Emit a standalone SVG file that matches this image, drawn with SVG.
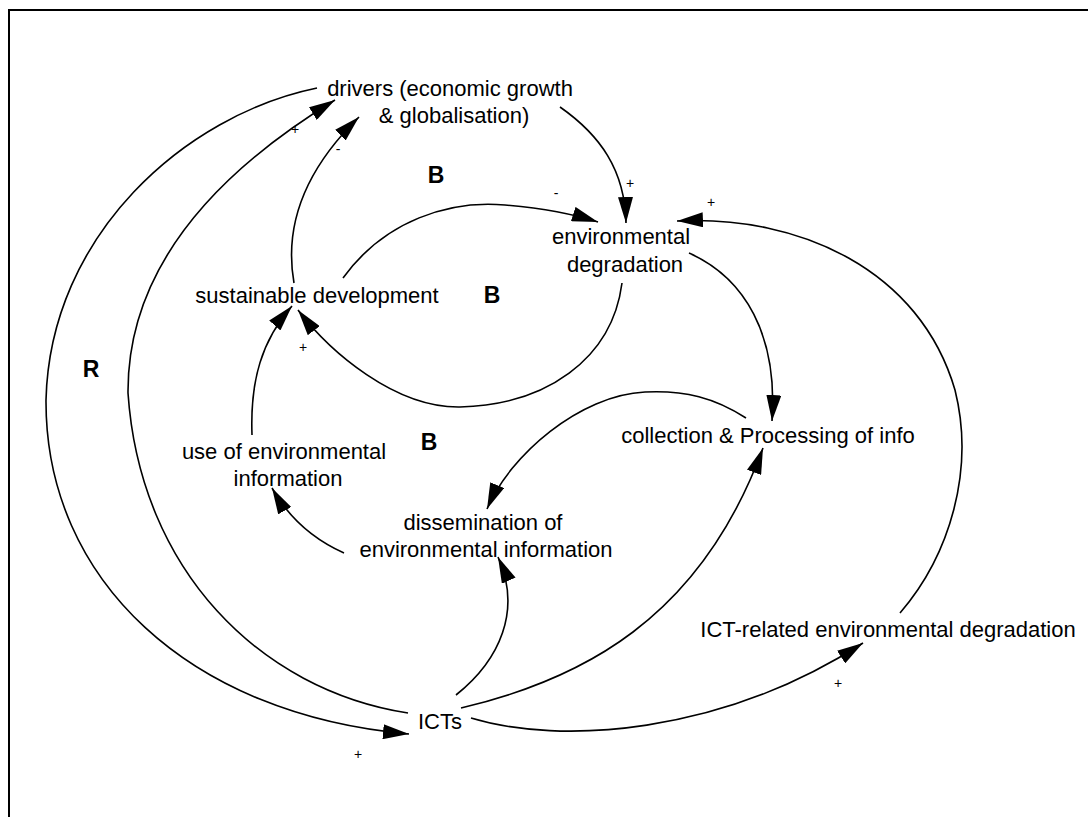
<svg xmlns="http://www.w3.org/2000/svg" width="1088" height="817" viewBox="0 0 1088 817">
<defs>
<style>
.lbl{font-family:"Liberation Sans",Arial,sans-serif;font-size:22px;fill:#000;text-anchor:middle}
.loop{font-family:"Liberation Sans",Arial,sans-serif;font-size:23px;font-weight:bold;fill:#000;text-anchor:middle}
.sign{font-family:"Liberation Sans",Arial,sans-serif;font-size:14px;fill:#000;text-anchor:middle}
.con{fill:none;stroke:#000;stroke-width:1.6;marker-end:url(#ah)}
</style>
<marker id="ah" viewBox="0 0 26 15" markerWidth="26" markerHeight="15" refX="26" refY="7.5" orient="auto" markerUnits="userSpaceOnUse">
<path d="M0,0 L26,7.5 L0,15 z" fill="#000"/>
</marker>
</defs>
<rect x="0" y="0" width="1088" height="817" fill="#fff"/>
<rect id="frame" x="9" y="10" width="1100" height="830" fill="none" stroke="#000" stroke-width="2"/>

<g id="connectors">
<path class="con" d="M317,88 C185,115 50,235 46,400 C45,580 190,715 409,734"/>
<path class="con" d="M408,713 C260,690 140,570 128,393 C127,250 245,155 335,100"/>
<path class="con" d="M294,283 C282,215 315,160 359,117"/>
<path class="con" d="M560,107 C600,135 625,170 626,223"/>
<path class="con" d="M343,278 C385,220 450,200 505,205 C540,208 570,213 598,222"/>
<path class="con" d="M622,283 C612,360 545,405 460,407 C395,408 330,352 298,310"/>
<path class="con" d="M689,253 C745,278 778,335 772,421"/>
<path class="con" d="M900,613 C950,555 975,470 955,390 C920,270 800,215 677,221"/>
<path class="con" d="M746,418 C715,398 685,390 645,392 C580,395 510,455 487,509"/>
<path class="con" d="M461,708 C580,680 700,620 763,448"/>
<path class="con" d="M456,695 C500,660 522,610 498,557"/>
<path class="con" d="M471,718 C560,745 720,735 863,643"/>
<path class="con" d="M344,553 C315,540 290,520 272,488"/>
<path class="con" d="M252,435 C250,380 262,340 292,306"/>
</g>

<g id="polarities">
<text class="sign" x="295" y="134">+</text>
<text class="sign" x="338" y="154">-</text>
<text class="sign" x="630" y="188">+</text>
<text class="sign" x="556" y="198">-</text>
<text class="sign" x="711" y="207">+</text>
<text class="sign" x="303" y="352">+</text>
<text class="sign" x="358" y="759">+</text>
<text class="sign" x="838" y="688">+</text>
</g>

<g id="loops">
<text class="loop" x="436" y="183">B</text>
<text class="loop" x="492" y="303">B</text>
<text class="loop" x="429" y="450">B</text>
<text class="loop" x="91" y="377">R</text>
</g>

<g id="n-drivers">
<text class="lbl" x="450" y="96">drivers (economic growth</text>
<text class="lbl" x="454" y="123">&amp; globalisation)</text>
</g>
<g id="n-envdeg">
<text class="lbl" x="621" y="244">environmental</text>
<text class="lbl" x="625" y="272">degradation</text>
</g>
<g id="n-susdev">
<text class="lbl" x="317" y="303">sustainable development</text>
</g>
<g id="n-useinfo">
<text class="lbl" x="284" y="459">use of environmental</text>
<text class="lbl" x="288" y="486">information</text>
</g>
<g id="n-collect">
<text class="lbl" x="768" y="443">collection &amp; Processing of info</text>
</g>
<g id="n-dissem">
<text class="lbl" x="483" y="530">dissemination of</text>
<text class="lbl" x="486" y="557">environmental information</text>
</g>
<g id="n-ictdeg">
<text class="lbl" x="888" y="637">ICT-related environmental degradation</text>
</g>
<g id="n-icts">
<text class="lbl" x="440" y="729">ICTs</text>
</g>
</svg>
